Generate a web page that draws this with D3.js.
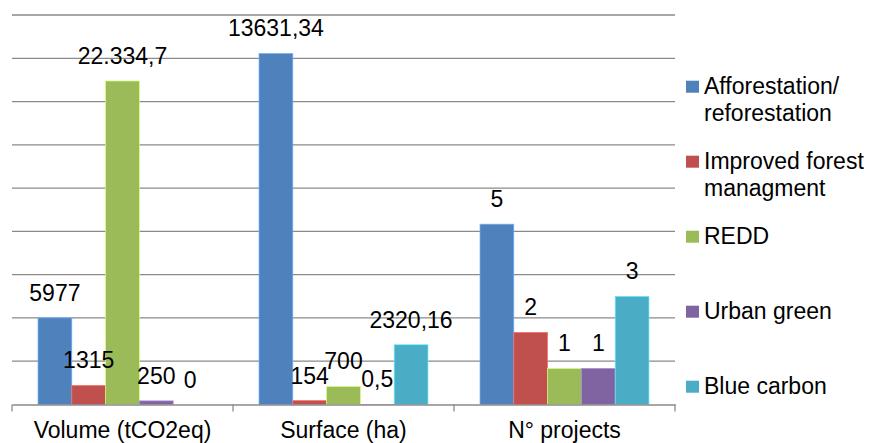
<!DOCTYPE html>
<html>
<head>
<meta charset="utf-8">
<script src="https://cdn.jsdelivr.net/npm/d3@7"></script>
<style>
  html, body { margin: 0; padding: 0; background: #fff; }
  svg text { font-family: "Liberation Sans", Arial, sans-serif; fill: #000; }
</style>
</head>
<body>
<svg id="chart" width="874" height="443"></svg>
<script>
// Categories along the x axis
const categories = ["Volume (tCO2eq)", "Surface (ha)", "N° projects"];

// Series names and their legend lines
const seriesNames = ["Afforestation/reforestation", "Improved forest managment", "REDD", "Urban green", "Blue carbon"];
const legendLines = [["Afforestation/", "reforestation"], ["Improved forest", "managment"], ["REDD"], ["Urban green"], ["Blue carbon"]];

// Values per series, one per category
const afforestation = [5977, 13631.34, 5];
const improvedForest = [1315, 154, 2];
const redd = [22334.7, 700, 1];
const urbanGreen = [250, 0.5, 1];
const blueCarbon = [0, 2320.16, 3];

// Value labels as printed on the bars
const afforestationLabels = ["5977", "13631,34", "5"];
const improvedForestLabels = ["1315", "154", "2"];
const reddLabels = ["22.334,7", "700", "1"];
const urbanGreenLabels = ["250", "0,5", "1"];
const blueCarbonLabels = ["0", "2320,16", "3"];

// Share-of-category axis ticks (percent)
const yTicks = [0, 10, 20, 30, 40, 50, 60, 70, 80, 90];

const colors = ["#4F81BD", "#C0504D", "#9BBB59", "#8064A2", "#4BACC6"];

const seriesValues = [afforestation, improvedForest, redd, urbanGreen, blueCarbon];
const seriesLabels = [afforestationLabels, improvedForestLabels, reddLabels, urbanGreenLabels, blueCarbonLabels];

// Each bar is drawn as its share of the category total
const totals = categories.map((c, ci) => d3.sum(seriesValues, s => s[ci]));

const rows = [];
seriesNames.forEach((name, si) => {
  categories.forEach((cat, ci) => {
    rows.push({
      series: name, si, cat,
      value: seriesValues[si][ci],
      share: seriesValues[si][ci] / totals[ci] * 100,
      label: seriesLabels[si][ci]
    });
  });
});

const svg = d3.select("#chart");
const FONT = 23;

const plot = { left: 12, right: 675, top: 15, bottom: 404.5 };

const x0 = d3.scaleBand().domain(categories).range([plot.left, plot.right]).paddingInner(0).paddingOuter(0);
const x1 = d3.scaleBand().domain(seriesNames).range([0, x0.bandwidth()]).paddingInner(0).paddingOuter(0.77);
const y = d3.scaleLinear().domain([0, 90]).range([plot.bottom, plot.top]);

// Horizontal gridlines
svg.append("g")
  .selectAll("line")
  .data(yTicks.filter(t => t > 0))
  .join("line")
  .attr("x1", plot.left).attr("x2", plot.right)
  .attr("y1", d => y(d)).attr("y2", d => y(d))
  .attr("stroke", "#8a8a8a").attr("stroke-width", 1.3);

// Bars
svg.append("g")
  .selectAll("rect")
  .data(rows)
  .join("rect")
  .attr("x", d => x0(d.cat) + x1(d.series))
  .attr("width", x1.bandwidth())
  .attr("y", d => y(d.share))
  .attr("height", d => y(0) - y(d.share))
  .attr("fill", d => colors[d.si])
  .attr("stroke", d => d3.color(colors[d.si]).brighter(0.9))
  .attr("stroke-width", 0.7);

// Category axis
const xAxis = d3.axisBottom(x0).tickSize(0).tickPadding(0).tickFormat(() => "");
const axisG = svg.append("g").attr("transform", `translate(0,${plot.bottom})`).call(xAxis);
axisG.select(".domain").attr("stroke", "#8a8a8a").attr("stroke-width", 1.3);
// Tick marks at the category boundaries
const boundaries = categories.map(c => x0(c)).concat([x0.range()[1]]);
axisG.selectAll(".boundary")
  .data(boundaries)
  .join("line")
  .attr("class", "boundary")
  .attr("x1", d => d).attr("x2", d => d)
  .attr("y1", 0).attr("y2", 7)
  .attr("stroke", "#8a8a8a").attr("stroke-width", 1.3);
axisG.selectAll(".cat")
  .data(categories)
  .join("text")
  .attr("class", "cat")
  .attr("x", d => x0(d) + x0.bandwidth() / 2)
  .attr("y", 33.5)
  .attr("text-anchor", "middle")
  .style("font-size", FONT + "px")
  .text(d => d);

// Value labels above the bars
svg.append("g")
  .selectAll("text")
  .data(rows)
  .join("text")
  .attr("x", d => x0(d.cat) + x1(d.series) + x1.bandwidth() / 2)
  .attr("y", d => y(d.share) - 17)
  .attr("text-anchor", "middle")
  .style("font-size", FONT + "px")
  .text(d => d.label);

// Legend
const legend = svg.append("g");
const entry = legend.selectAll("g")
  .data(seriesNames)
  .join("g")
  .attr("transform", (d, i) => `translate(686,${80.7 + i * 75})`);
entry.append("rect")
  .attr("width", 13).attr("height", 12)
  .attr("fill", (d, i) => colors[i]);
entry.append("text")
  .style("font-size", FONT + "px")
  .selectAll("tspan")
  .data((d, i) => legendLines[i])
  .join("tspan")
  .attr("x", 18)
  .attr("y", (d, j) => 13.5 + j * 26.5)
  .text(d => d);
</script>
</body>
</html>
